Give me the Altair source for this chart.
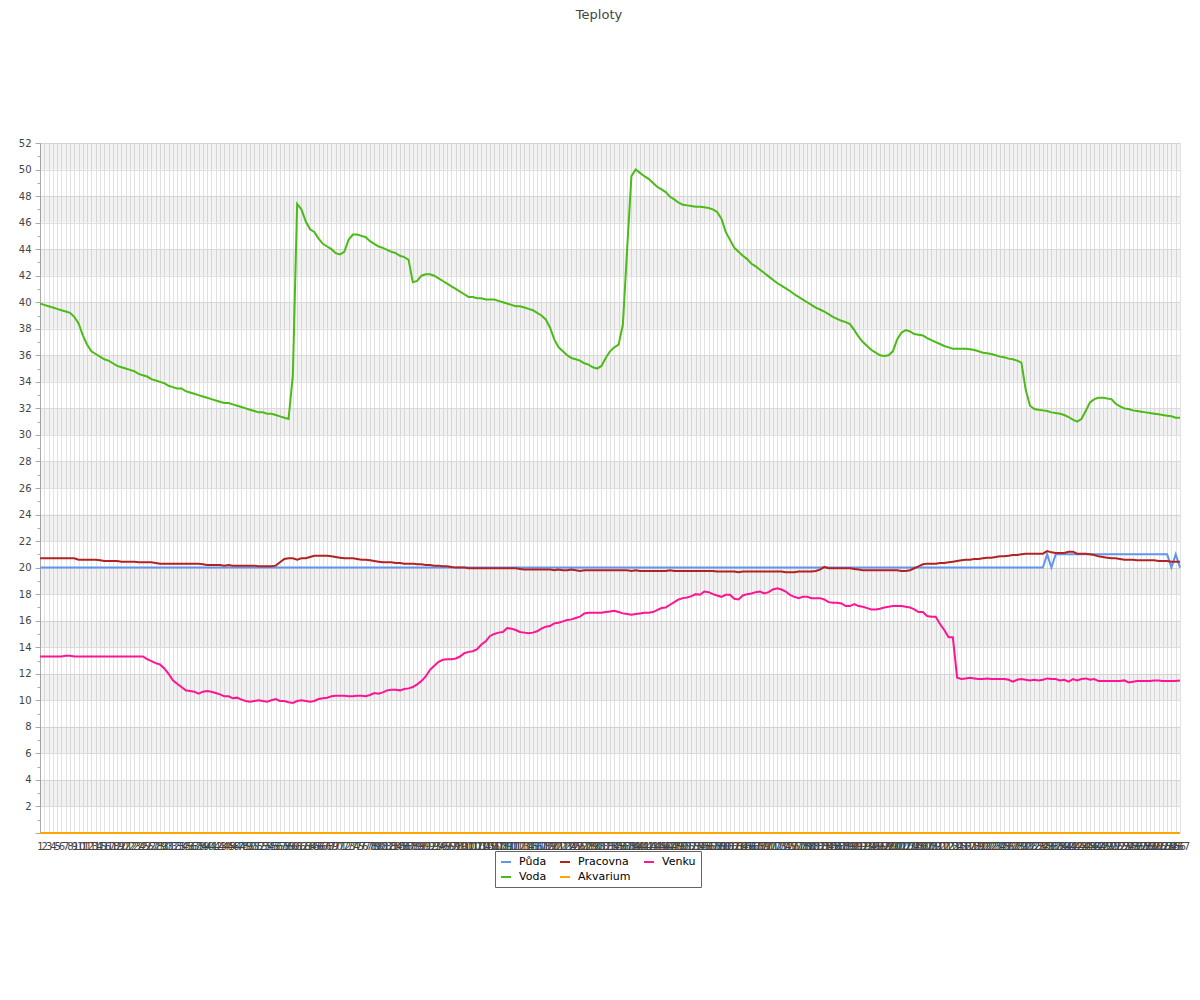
import altair as alt
import pandas as pd

labels = [str(i) for i in range(1, 268)]

puda = [20.0] * 235 + [21.0, 20.0] + [21.0] * 27 + [20.0, 21.0, 20.0]

voda = [
    39.9, 39.8, 39.7, 39.6, 39.5, 39.4, 39.3, 39.2, 38.9, 38.4,
    37.5, 36.8, 36.3, 36.1, 35.9, 35.7, 35.6, 35.4, 35.2, 35.1,
    35.0, 34.9, 34.8, 34.6, 34.5, 34.4, 34.2, 34.1, 34.0, 33.9,
    33.7, 33.6, 33.5, 33.5, 33.3, 33.2, 33.1, 33.0, 32.9, 32.8,
    32.7, 32.6, 32.5, 32.4, 32.4, 32.3, 32.2, 32.1, 32.0, 31.9,
    31.8, 31.7, 31.7, 31.6, 31.6, 31.5, 31.4, 31.3, 31.2, 34.5,
    47.4, 47.0, 46.1, 45.5, 45.3, 44.8, 44.4, 44.2, 44.0, 43.7,
    43.6, 43.8, 44.7, 45.1, 45.1, 45.0, 44.9, 44.6, 44.4, 44.2,
    44.1, 43.95, 43.8, 43.7, 43.5, 43.4, 43.2, 41.5, 41.6, 42.0,
    42.1, 42.1, 42.0, 41.8, 41.6, 41.4, 41.2, 41.0, 40.8, 40.6,
    40.4, 40.4, 40.3, 40.3, 40.2, 40.2, 40.2, 40.1, 40.0, 39.9,
    39.8, 39.7, 39.7, 39.6, 39.5, 39.4, 39.2, 39.0, 38.7, 38.1,
    37.2, 36.6, 36.3, 36.0, 35.8, 35.7, 35.6, 35.4, 35.3, 35.1,
    35.0, 35.2, 35.8, 36.3, 36.6, 36.8, 38.3, 44.0, 49.5, 50.0,
    49.75, 49.5, 49.3, 49.0, 48.7, 48.5, 48.3, 47.95, 47.75, 47.5,
    47.35, 47.3, 47.25, 47.2, 47.2, 47.15, 47.1, 47.0, 46.8, 46.3,
    45.3, 44.7, 44.1, 43.8, 43.5, 43.25, 42.9, 42.7, 42.45, 42.2,
    41.95, 41.7, 41.45, 41.25, 41.05, 40.85, 40.6, 40.4, 40.2, 40.0,
    39.8, 39.6, 39.45, 39.3, 39.1, 38.9, 38.75, 38.6, 38.5, 38.35,
    37.9, 37.4, 37.0, 36.7, 36.4, 36.2, 36.0, 35.95, 36.0, 36.3,
    37.2, 37.7, 37.9, 37.8, 37.6, 37.55, 37.5, 37.3, 37.15, 37.0,
    36.85, 36.7, 36.6, 36.5, 36.5, 36.5, 36.5, 36.45, 36.4, 36.3,
    36.2, 36.15, 36.1, 36.0, 35.9, 35.85, 35.75, 35.7, 35.6, 35.45,
    33.4, 32.2, 31.95, 31.9, 31.85, 31.8, 31.7, 31.65, 31.6, 31.5,
    31.35, 31.15, 31.0, 31.2, 31.8, 32.45, 32.7, 32.8, 32.8, 32.75,
    32.7, 32.35, 32.15, 32.0, 31.95, 31.85, 31.8, 31.75, 31.7, 31.65,
    31.6, 31.55, 31.5, 31.45, 31.4, 31.3, 31.3,
]

pracovna = [
    20.7, 20.7, 20.7, 20.7, 20.7, 20.7, 20.7, 20.7, 20.7, 20.6,
    20.6, 20.6, 20.6, 20.6, 20.55, 20.5, 20.5, 20.5, 20.5, 20.45,
    20.45, 20.45, 20.45, 20.4, 20.4, 20.4, 20.4, 20.35, 20.3, 20.3,
    20.3, 20.3, 20.3, 20.3, 20.3, 20.3, 20.3, 20.3, 20.25, 20.2,
    20.2, 20.2, 20.2, 20.15, 20.2, 20.15, 20.15, 20.15, 20.15, 20.15,
    20.15, 20.1, 20.1, 20.1, 20.1, 20.15, 20.4, 20.65, 20.7, 20.7,
    20.6, 20.7, 20.7, 20.8, 20.9, 20.9, 20.9, 20.9, 20.85, 20.8,
    20.75, 20.7, 20.7, 20.7, 20.65, 20.6, 20.6, 20.55, 20.5, 20.45,
    20.4, 20.4, 20.4, 20.35, 20.35, 20.3, 20.3, 20.3, 20.25, 20.25,
    20.2, 20.2, 20.15, 20.15, 20.1, 20.1, 20.05, 20.0, 20.0, 20.0,
    19.95, 19.95, 19.95, 19.95, 19.95, 19.95, 19.95, 19.95, 19.95, 19.95,
    19.95, 19.95, 19.9, 19.85, 19.85, 19.85, 19.85, 19.85, 19.85, 19.85,
    19.8, 19.85, 19.8, 19.8, 19.85, 19.8, 19.75, 19.8, 19.8, 19.8,
    19.8, 19.8, 19.8, 19.8, 19.8, 19.8, 19.8, 19.8, 19.75, 19.8,
    19.75, 19.75, 19.75, 19.75, 19.75, 19.75, 19.75, 19.8, 19.75, 19.75,
    19.75, 19.75, 19.75, 19.75, 19.75, 19.75, 19.75, 19.75, 19.7, 19.7,
    19.7, 19.7, 19.7, 19.65, 19.7, 19.7, 19.7, 19.7, 19.7, 19.7,
    19.7, 19.7, 19.7, 19.7, 19.65, 19.65, 19.65, 19.7, 19.7, 19.7,
    19.7, 19.75, 19.85, 20.05, 19.95, 19.95, 19.95, 19.95, 19.95, 19.95,
    19.9, 19.85, 19.8, 19.8, 19.8, 19.8, 19.8, 19.8, 19.8, 19.8,
    19.8, 19.75, 19.75, 19.8, 19.95, 20.1, 20.25, 20.3, 20.3, 20.3,
    20.35, 20.35, 20.4, 20.45, 20.5, 20.55, 20.6, 20.6, 20.65, 20.65,
    20.7, 20.75, 20.75, 20.8, 20.85, 20.85, 20.9, 20.95, 20.95, 21.0,
    21.05, 21.05, 21.05, 21.05, 21.05, 21.25, 21.15, 21.1, 21.1, 21.1,
    21.2, 21.2, 21.05, 21.05, 21.05, 21.0, 20.95, 20.85, 20.8, 20.75,
    20.7, 20.7, 20.65, 20.6, 20.6, 20.6, 20.55, 20.55, 20.55, 20.55,
    20.55, 20.5, 20.5, 20.5, 20.45, 20.45, 20.45,
]

akvarium = [0.0] * 267

venku = [
    13.3, 13.3, 13.3, 13.3, 13.3, 13.3, 13.35, 13.35, 13.3, 13.3,
    13.3, 13.3, 13.3, 13.3, 13.3, 13.3, 13.3, 13.3, 13.3, 13.3,
    13.3, 13.3, 13.3, 13.3, 13.3, 13.1, 12.95, 12.8, 12.7, 12.4,
    12.0, 11.5, 11.25, 11.0, 10.75, 10.7, 10.65, 10.5, 10.65, 10.7,
    10.65, 10.55, 10.45, 10.3, 10.3, 10.15, 10.2, 10.05, 9.95, 9.9,
    9.95, 10.0, 9.95, 9.9, 10.0, 10.1, 9.95, 9.95, 9.85, 9.8,
    9.95, 10.0, 9.95, 9.9, 9.95, 10.1, 10.15, 10.2, 10.3, 10.35,
    10.35, 10.35, 10.3, 10.3, 10.35, 10.35, 10.3, 10.4, 10.55, 10.5,
    10.6, 10.75, 10.8, 10.8, 10.75, 10.85, 10.9, 11.0, 11.2, 11.45,
    11.8, 12.3, 12.6, 12.9, 13.05, 13.1, 13.1, 13.15, 13.3, 13.55,
    13.65, 13.7, 13.85, 14.2, 14.45, 14.85, 15.0, 15.1, 15.15, 15.45,
    15.4, 15.3, 15.15, 15.1, 15.05, 15.1, 15.2, 15.4, 15.55, 15.6,
    15.8, 15.85, 15.95, 16.05, 16.1, 16.2, 16.3, 16.55, 16.6, 16.6,
    16.6, 16.6, 16.65, 16.7, 16.75, 16.65, 16.55, 16.5, 16.45, 16.5,
    16.55, 16.6, 16.6, 16.65, 16.8, 16.95, 17.0, 17.2, 17.4, 17.6,
    17.7, 17.75, 17.85, 18.0, 17.95, 18.2, 18.15, 18.0, 17.9, 17.8,
    17.95, 17.95, 17.65, 17.6, 17.9, 18.0, 18.05, 18.15, 18.2, 18.05,
    18.15, 18.35, 18.45, 18.35, 18.2, 17.95, 17.8, 17.7, 17.8, 17.8,
    17.7, 17.7, 17.7, 17.6, 17.4, 17.35, 17.35, 17.3, 17.1, 17.1,
    17.25, 17.1, 17.05, 16.95, 16.85, 16.85, 16.9, 17.0, 17.05, 17.1,
    17.1, 17.1, 17.05, 17.0, 16.85, 16.65, 16.65, 16.35, 16.3, 16.3,
    15.75, 15.3, 14.75, 14.75, 11.7, 11.6, 11.65, 11.7, 11.65, 11.6,
    11.6, 11.65, 11.6, 11.6, 11.6, 11.6, 11.55, 11.4, 11.55, 11.6,
    11.55, 11.5, 11.55, 11.5, 11.55, 11.65, 11.6, 11.6, 11.5, 11.55,
    11.4, 11.6, 11.5, 11.6, 11.65, 11.55, 11.6, 11.45, 11.45, 11.45,
    11.45, 11.45, 11.45, 11.5, 11.35, 11.4, 11.45, 11.45, 11.45, 11.45,
    11.5, 11.5, 11.45, 11.45, 11.45, 11.45, 11.5,
]

series_names = ["Půda", "Voda", "Pracovna", "Akvarium", "Venku"]
series_values = [puda, voda, pracovna, akvarium, venku]
series_colors = ["#6495ED", "#4CBB17", "#B22222", "#FFA500", "#FF1493"]

for vals in series_values:
    assert len(vals) == len(labels), len(vals)

rows = []
for name, vals in zip(series_names, series_values):
    for lab, v in zip(labels, vals):
        rows.append({"t": int(lab), "series": name, "value": v})
df = pd.DataFrame(rows)

band_starts = list(range(2, 52, 4))
bands = pd.DataFrame({"y": band_starts, "y2": [b + 2 for b in band_starts]})

FONT = "DejaVu Sans"
W, H = 1140, 690

y_axis = alt.Axis(
    values=list(range(0, 53)),
    labelExpr="(datum.value % 2 == 0 && datum.value > 0) ? datum.label : ''",
    gridOpacity={"condition": {"test": "datum.value % 2 == 0 && datum.value > 0", "value": 1}, "value": 0},
    tickSize={"condition": {"test": "datum.value % 2 == 0", "value": 5}, "value": 3},
    gridColor="#e0e0e0",
    domainColor="#aaaaaa",
    tickColor="#aaaaaa",
    labelColor="#444444",
    labelFont=FONT,
    labelFontSize=10,
    labelPadding=4,
    title=None,
)
y_scale = alt.Scale(domain=[0, 52], nice=False, zero=True)

band_layer = alt.Chart(bands).mark_rect(color="#000000", opacity=0.05).encode(
    x=alt.value(0),
    x2=alt.value(W),
    y=alt.Y("y:Q", scale=y_scale, axis=y_axis),
    y2="y2:Q",
)

line_layer = alt.Chart(df).mark_line(strokeWidth=2).encode(
    x=alt.X(
        "t:O",
        scale=alt.Scale(type="point", padding=0),
        axis=alt.Axis(
            grid=True,
            gridColor="#e2e2e2",
            domain=False,
            ticks=False,
            tickSize=0,
            labelAngle=0,
            labelOverlap=False,
            labelPadding=8,
            labelFont=FONT,
            labelFontSize=10,
            labelColor="#444444",
            title=None,
        ),
    ),
    y=alt.Y("value:Q", scale=y_scale, axis=y_axis),
    color=alt.Color(
        "series:N",
        scale=alt.Scale(domain=series_names, range=series_colors),
        legend=alt.Legend(
            title=None,
            orient="none",
            legendX=455,
            legendY=708,
            columns=3,
            symbolType="stroke",
            symbolSize=100,
            symbolStrokeWidth=2,
            labelFont=FONT,
            labelFontSize=11,
            labelColor="#000000",
            labelOffset=7,
            strokeColor="#666666",
            padding=5,
            rowPadding=4,
            columnPadding=9,
        ),
    ),
    detail="series:N",
)

chart = alt.layer(band_layer, line_layer).properties(
    width=W,
    height=H,
    title=alt.TitleParams(
        "Teploty",
        font=FONT,
        fontSize=13,
        fontWeight="normal",
        color="#444444",
        anchor="middle",
        offset=116,
        dx=-11,
    ),
    padding={"left": 32, "top": 135, "right": 12, "bottom": 120},
    autosize=alt.AutoSizeParams(type="none"),
).configure_view(strokeWidth=0)

chart.save("out.html", embed_options={"renderer": "svg", "actions": False})
